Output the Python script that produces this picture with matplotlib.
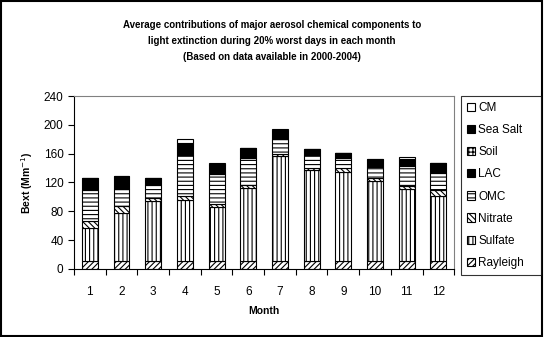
import numpy as np
import matplotlib
matplotlib.use("Agg")
import matplotlib.pyplot as plt
from matplotlib.patches import Rectangle

plt.rcParams["font.family"] = ["Liberation Sans", "DejaVu Sans"]
plt.rcParams["hatch.linewidth"] = 0.8

months = [str(m) for m in range(1, 13)]
rayleigh = [11, 11, 11, 11, 11, 11, 11, 11, 11, 11, 11, 11]
sulfate = [46, 67, 83, 85, 75.5, 102, 145.5, 126, 123, 110.5, 99.5, 90]
nitrate = [9.5, 9.5, 4, 5.5, 4, 4, 3, 3, 5.5, 4.5, 5, 9]
omc = [43, 24, 19, 56, 41.5, 37, 21, 17.5, 15, 16, 27, 23]
lac = [16, 16, 8, 16, 12, 13, 12, 8, 6, 9, 9, 13]
soil = [0.6, 0.6, 0.6, 0.8, 0.6, 0.6, 0.6, 0.6, 0.6, 0.6, 0.6, 0.6]
sea_salt = [0.4, 0.4, 0.4, 0.6, 0.4, 0.4, 0.4, 0.4, 0.4, 0.4, 0.4, 0.4]
cm = [0, 0, 0, 5, 2, 0.5, 0.5, 0, 0, 0, 2.5, 0]

series = [
    ("Rayleigh", rayleigh, "white", "//////"),
    ("Sulfate", sulfate, "white", "||||"),
    ("Nitrate", nitrate, "white", "\\\\\\\\\\\\"),
    ("OMC", omc, "white", "----"),
    ("LAC", lac, "black", None),
    ("Soil", soil, "white", "++++"),
    ("Sea Salt", sea_salt, "black", None),
    ("CM", cm, "white", None),
]

fig = plt.figure(figsize=(5.44, 3.37), dpi=100)
ax = fig.add_axes([0.136, 0.202, 0.699, 0.513])

x = np.arange(1, 13)
bottom = np.zeros(12)
handles = []
for name, vals, fc, hatch in series:
    b = ax.bar(x, vals, width=0.5, bottom=bottom, color=fc, edgecolor="black",
               linewidth=0.8, hatch=hatch, label=name)
    handles.append(b)
    bottom += np.array(vals)

ax.set_xlim(0.5, 12.5)
ax.set_ylim(0, 240)
ax.set_yticks(np.arange(0, 241, 40))
ax.set_xticks(x)
ax.set_xticklabels(months)
ax.set_xticks(np.arange(0.5, 12.6, 1), minor=True)
ax.tick_params(axis="x", which="major", length=0, pad=12, labelsize=8.5)
ax.tick_params(axis="x", which="minor", length=4, direction="out", width=0.8)
ax.tick_params(axis="y", length=4, direction="out", width=0.8, labelsize=8.5)
for s in ["top", "right"]:
    ax.spines[s].set_color("gray")
ax.set_xlabel("Month", fontweight="bold", fontsize=7.5, labelpad=6)
ax.set_ylabel("Bext (Mm$^{-1}$)", fontweight="bold", fontsize=7.5, labelpad=6)

fig.text(0.5, 0.941, "Average contributions of major aerosol chemical components to\n"
         "light extinction during 20% worst days in each month\n"
         "(Based on data available in 2000-2004)",
         ha="center", va="top", fontsize=7, fontweight="bold", linespacing=1.75)

leg = fig.legend(handles[::-1], [s[0] for s in series][::-1], loc="upper left",
                 bbox_to_anchor=(0.847, 0.193, 0.147, 0.522), mode="expand",
                 borderaxespad=0, fancybox=False,
                 edgecolor="black", fontsize=8.5, handlelength=0.7, handleheight=0.7,
                 handletextpad=0.3, labelspacing=0.86, borderpad=0.5)
leg.get_frame().set_linewidth(0.8)

fig.patches.append(Rectangle((0.002, 0.003), 0.995, 0.994, transform=fig.transFigure,
                             fill=False, edgecolor="black", linewidth=1.5))

fig.savefig("out.png", dpi=100)
